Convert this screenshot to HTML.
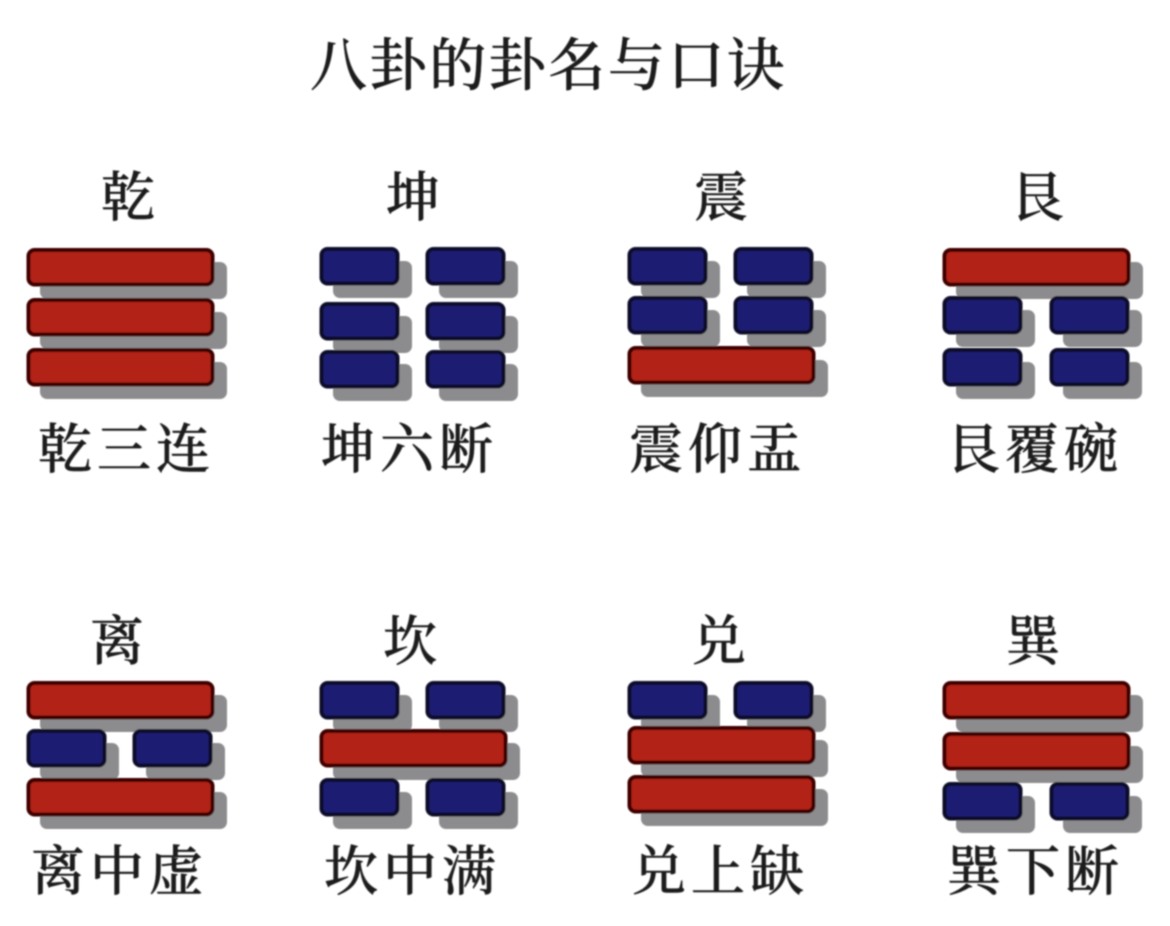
<!DOCTYPE html>
<html lang="zh"><head><meta charset="utf-8"><style>
html,body{margin:0;padding:0;background:#fff;width:1170px;height:926px;overflow:hidden}
svg{display:block}
text{font-family:"Liberation Serif","Noto Serif CJK SC",serif;fill:#1c1c1c;stroke:#1c1c1c;stroke-width:.5}
.t{font-size:57px;letter-spacing:2.6px;font-weight:500}
.h{font-size:54px;text-anchor:middle;font-weight:500}
.l{font-size:54px;letter-spacing:5px;font-weight:500}
.s{fill:#8c8c8e}
.r{fill:#b22418;stroke:#3f0606;stroke-width:4}
.b{fill:#1f1c72;stroke:#08082a;stroke-width:4}
</style></head><body>
<svg width="1170" height="926" viewBox="0 0 1170 926" xmlns="http://www.w3.org/2000/svg">
<defs>
<filter id="f" x="-5%" y="-5%" width="110%" height="110%"><feGaussianBlur stdDeviation="0.9"/></filter>
<g id="R"><rect class="s" x="13" y="13" width="187" height="37" rx="7"/></g>
<g id="R2"><rect class="r" x="1.5" y="1" width="184" height="34.5" rx="6"/></g>
<g id="B"><rect class="s" x="13" y="13" width="79" height="37" rx="7"/></g>
<g id="B2"><rect class="b" x="1.5" y="1" width="76" height="34.5" rx="6"/></g>
</defs>
<rect width="1170" height="926" fill="#fff"/>
<g filter="url(#f)">
<text class="t" x="310" y="85">八卦的卦名与口诀</text>

<text class="h" x="128" y="216">乾</text>
<text class="h" x="413" y="216">坤</text>
<text class="h" x="721" y="216">震</text>
<text class="h" x="1037" y="216">艮</text>
<text class="l" x="38" y="468">乾三连</text>
<text class="l" x="321" y="468">坤六断</text>
<text class="l" x="629" y="468">震仰盂</text>
<text class="l" x="946" y="468">艮覆碗</text>

<text class="h" x="117" y="660">离</text>
<text class="h" x="410" y="660">坎</text>
<text class="h" x="719" y="660">兑</text>
<text class="h" x="1033" y="660">巽</text>
<text class="l" x="31" y="890">离中虚</text>
<text class="l" x="324" y="890">坎中满</text>
<text class="l" x="632" y="890">兑上缺</text>
<text class="l" x="947" y="890">巽下断</text>

<!-- shadows -->
<use href="#R" x="27" y="249"/><use href="#R" x="27" y="299"/><use href="#R" x="27" y="349"/>
<use href="#B" x="320" y="248"/><use href="#B" x="426" y="248"/><use href="#B" x="320" y="303"/><use href="#B" x="426" y="303"/><use href="#B" x="320" y="351"/><use href="#B" x="426" y="351"/>
<use href="#B" x="628" y="248"/><use href="#B" x="734" y="248"/><use href="#B" x="628" y="297"/><use href="#B" x="734" y="297"/><use href="#R" x="628" y="347"/>
<use href="#R" x="943" y="249"/><use href="#B" x="943" y="297"/><use href="#B" x="1050" y="297"/><use href="#B" x="943" y="349"/><use href="#B" x="1050" y="349"/>
<use href="#R" x="27" y="682"/><use href="#B" x="27" y="730"/><use href="#B" x="133" y="730"/><use href="#R" x="27" y="779"/>
<use href="#B" x="320" y="682"/><use href="#B" x="426" y="682"/><use href="#R" x="320" y="730"/><use href="#B" x="320" y="779"/><use href="#B" x="426" y="779"/>
<use href="#B" x="628" y="682"/><use href="#B" x="734" y="682"/><use href="#R" x="628" y="727"/><use href="#R" x="628" y="776"/>
<use href="#R" x="943" y="682"/><use href="#R" x="943" y="733"/><use href="#B" x="943" y="783"/><use href="#B" x="1050" y="783"/>

<!-- bars -->
<use href="#R2" x="27" y="249"/><use href="#R2" x="27" y="299"/><use href="#R2" x="27" y="349"/>
<use href="#B2" x="320" y="248"/><use href="#B2" x="426" y="248"/><use href="#B2" x="320" y="303"/><use href="#B2" x="426" y="303"/><use href="#B2" x="320" y="351"/><use href="#B2" x="426" y="351"/>
<use href="#B2" x="628" y="248"/><use href="#B2" x="734" y="248"/><use href="#B2" x="628" y="297"/><use href="#B2" x="734" y="297"/><use href="#R2" x="628" y="347"/>
<use href="#R2" x="943" y="249"/><use href="#B2" x="943" y="297"/><use href="#B2" x="1050" y="297"/><use href="#B2" x="943" y="349"/><use href="#B2" x="1050" y="349"/>
<use href="#R2" x="27" y="682"/><use href="#B2" x="27" y="730"/><use href="#B2" x="133" y="730"/><use href="#R2" x="27" y="779"/>
<use href="#B2" x="320" y="682"/><use href="#B2" x="426" y="682"/><use href="#R2" x="320" y="730"/><use href="#B2" x="320" y="779"/><use href="#B2" x="426" y="779"/>
<use href="#B2" x="628" y="682"/><use href="#B2" x="734" y="682"/><use href="#R2" x="628" y="727"/><use href="#R2" x="628" y="776"/>
<use href="#R2" x="943" y="682"/><use href="#R2" x="943" y="733"/><use href="#B2" x="943" y="783"/><use href="#B2" x="1050" y="783"/>
</g>
</svg>
</body></html>
